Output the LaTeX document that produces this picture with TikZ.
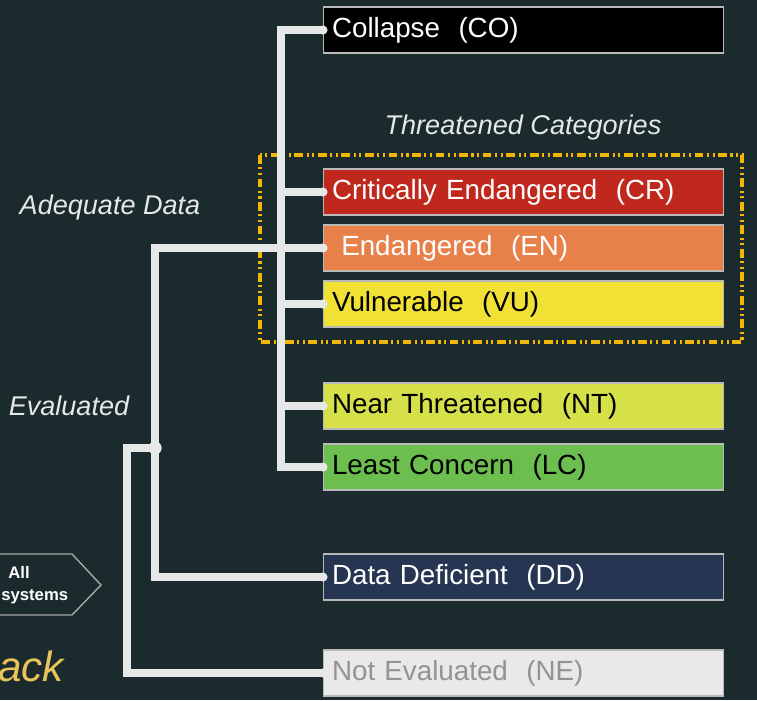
\documentclass[tikz,border=0pt]{standalone}
\usepackage{fontspec}
\setmainfont{Liberation Sans}
\usepackage{tikz}

\definecolor{bgdark}{RGB}{27,43,45}
\definecolor{lineclr}{RGB}{230,232,232}
\definecolor{cocol}{RGB}{0,0,0}
\definecolor{crcol}{RGB}{192,40,30}
\definecolor{encol}{RGB}{232,128,74}
\definecolor{vucol}{RGB}{242,225,53}
\definecolor{ntcol}{RGB}{214,224,72}
\definecolor{lccol}{RGB}{108,190,78}
\definecolor{ddcol}{RGB}{38,54,82}
\definecolor{necol}{RGB}{233,233,233}
\definecolor{threatclr}{RGB}{242,183,5}
\definecolor{goldtext}{RGB}{232,196,90}

\tikzset{
	catbox/.style={rectangle, anchor=west, draw=gray!55, line width=0.6pt,
		text width=7.66cm, inner xsep=0.17cm, minimum height=0.92cm,
		align=left, font=\fontsize{15.8}{18}\selectfont},
	conn/.style={draw=lineclr, line width=4pt},
	lbl/.style={text=lineclr, font=\fontsize{15.4}{18}\selectfont\itshape},
	pin/.style={fill=lineclr}
}

\begin{document}
\begin{tikzpicture}[x=0.02cm,y=-0.02cm]
	\useasboundingbox (0,0) rectangle (757,700);
	\fill[bgdark] (0,0) rectangle (757,700);
	\clip (0,0) rectangle (757,700);

	% threatened group
	\draw[threatclr, line width=2pt, dash pattern=on 5pt off 2pt on 1.2pt off 2pt on 1.2pt off 2pt] (260,155) rectangle (742,342);
	\node[lbl] (threat) at (523,128) {Threatened Categories};

	% categories
	\node[catbox, fill=cocol, text=white] (co) at (323,30) {Collapse~~(CO)};
	\node[catbox, fill=crcol, text=white] (cr) at (323,192) {Critically Endangered~~(CR)};
	\node[catbox, fill=encol, text=white] (en) at (323,248) {~Endangered~~(EN)};
	\node[catbox, fill=vucol, text=black] (vu) at (323,304) {Vulnerable~~(VU)};
	\node[catbox, fill=ntcol, text=black] (nt) at (323,406) {Near Threatened~~(NT)};
	\node[catbox, fill=lccol, text=black] (lc) at (323,467) {Least Concern~~(LC)};
	\node[catbox, fill=ddcol, text=white] (dd) at (323,577) {Data Deficient~~(DD)};
	\node[catbox, fill=necol, text=gray!85] (ne) at (323,673) {Not Evaluated~~(NE)};

	% branch labels
	\node[lbl] (adequate) at (110,207) {Adequate Data};
	\node[lbl] (evaluated) at (69,406) {Evaluated};

	% tree
	\coordinate (trunk) at (281,0);
	\coordinate (split) at (155,0);
	\coordinate (join) at (155,448);
	\draw[conn] (co.west) -| (trunk |- lc.west) -- (lc.west);
	\draw[conn] (trunk |- cr.west) -- (cr.west);
	\draw[conn] (trunk |- vu.west) -- (vu.west);
	\draw[conn] (trunk |- nt.west) -- (nt.west);
	\draw[conn] (dd.west) -| (split |- en.west) -- (en.west);
	\draw[conn] (join) -- ++(-28,0) |- (ne.west);
	\foreach \n in {co,cr,en,vu,nt,lc,dd,ne}
		\fill[pin] (\n.west) circle (2.6pt);
	\fill[pin] (join) circle (3.8pt);

	% all ecosystems arrow
	\draw[gray!70, line width=0.8pt, fill=bgdark] (-10,554) -- (72,554) -- (101,585) -- (72,615) -- (-10,615);
	\node[text=white, align=left, anchor=west, inner sep=0pt, font=\fontsize{9.5}{12.5}\selectfont\bfseries] (allsys) at (1,585) {\hspace*{4pt}All\\systems};
	\node[text=goldtext, anchor=west, inner sep=0pt, font=\fontsize{24}{28}\selectfont\itshape] (back) at (-2,666) {ack};
\end{tikzpicture}
\end{document}
